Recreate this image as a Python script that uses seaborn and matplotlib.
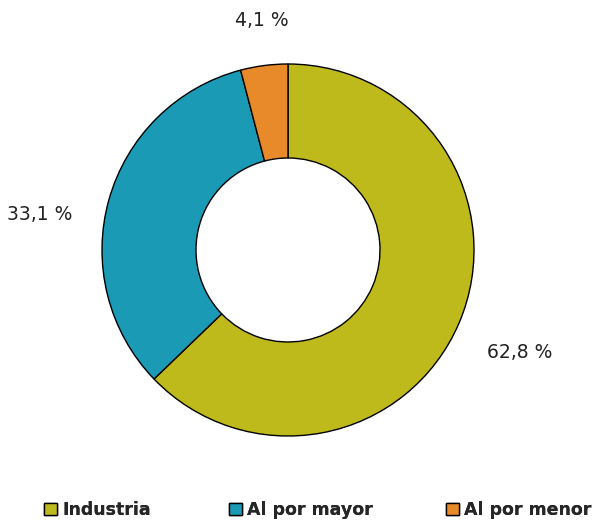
import matplotlib

matplotlib.use("Agg")
import matplotlib.pyplot as plt
import seaborn as sns
from matplotlib.patches import Patch

sns.set_theme(style="white")
plt.rcParams["font.family"] = ["DejaVu Sans"]

# data
sectors = ["Industria", "Al por mayor", "Al por menor"]
shares = [62.8, 33.1, 4.1]
share_labels = ["62,8 %", "33,1 %", "4,1 %"]
colors = ["#bfba1c", "#1a9ab5", "#e8892a"]

W, H = 600, 525
fig = plt.figure(figsize=(W / 100, H / 100), dpi=100)
ax = fig.add_axes([0, 0, 1, 1])

cx, cy, r = 288, H - 250, 186
wedges, _ = ax.pie(
    shares,
    colors=colors,
    startangle=90,
    counterclock=False,
    center=(cx, cy),
    radius=r,
    wedgeprops=dict(width=r - 92, edgecolor="black", linewidth=1),
)
ax.set_xlim(0, W)
ax.set_ylim(0, H)
ax.set_aspect("equal")
ax.axis("off")

# value labels outside the ring
label_pos = [(520, H - 352), (40, H - 215), (262, H - 20)]
for (x, y), txt in zip(label_pos, share_labels):
    ax.text(x, y, txt, ha="center", va="center", fontsize=13.5, color="#222222")

# legend: one entry per slot along the bottom
legend_x = [44, 229, 446]
for x0, name, c in zip(legend_x, sectors, colors):
    leg = fig.legend(
        [Patch(facecolor=c, edgecolor="black", linewidth=1)], [name],
        loc="center left", bbox_to_anchor=(x0 / W, 1 - 510 / H),
        frameon=False, handlelength=0.75, handleheight=0.75,
        handletextpad=0.3, borderaxespad=0, borderpad=0,
        prop=dict(size=12.5, weight="bold"),
    )
    fig.add_artist(leg)

fig.savefig("out.png", dpi=100)
